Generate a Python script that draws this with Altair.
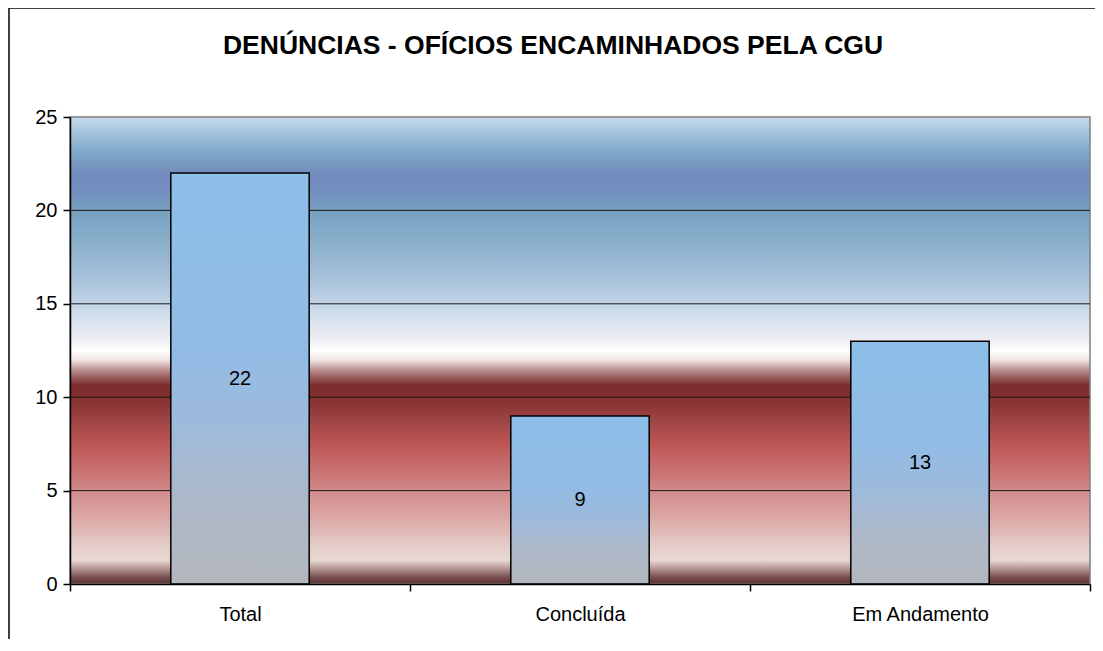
import altair as alt
import pandas as pd

categories = ["Total", "Concluída", "Em Andamento"]
values = [22, 9, 13]
grid_values = [5, 10, 15, 20]
y_ticks = [0, 5, 10, 15, 20, 25]
title_text = "DENÚNCIAS - OFÍCIOS ENCAMINHADOS PELA CGU"

FONT = "Liberation Sans"
W, H = 1020, 467

df = pd.DataFrame({"cat": categories, "val": values})
df_grid = pd.DataFrame({"g": grid_values})
df_title = pd.DataFrame({"t": [title_text]})

bg_stops = [
    (0.0, "#c9dcec"), (0.02, "#b2cde2"), (0.05, "#94b9d4"), (0.08, "#7ea5c6"),
    (0.125, "#7289bd"), (0.156, "#738fbf"), (0.2, "#779fc0"), (0.263, "#88aeca"),
    (0.328, "#a0bcd6"), (0.39, "#bcd0e4"), (0.435, "#d8e2ee"), (0.477, "#eeeef4"),
    (0.5, "#ffffff"), (0.52, "#f0e4e4"), (0.546, "#b08080"), (0.574, "#7c2c2c"),
    (0.6, "#842e2e"), (0.65, "#9e4444"), (0.70, "#bd5656"), (0.756, "#c87070"),
    (0.81, "#d49090"), (0.863, "#dcaaa8"), (0.916, "#e4ccc8"), (0.949, "#e8d8d4"),
    (0.966, "#b89a98"), (0.985, "#7a5050"), (1.0, "#5a3030"),
]
bg_grad = alt.Gradient(
    gradient="linear", x1=0, y1=0, x2=0, y2=1,
    stops=[alt.GradientStop(offset=o, color=c) for o, c in bg_stops],
)
bar_grad = alt.Gradient(
    gradient="linear", x1=0, y1=0, x2=0, y2=1,
    stops=[
        alt.GradientStop(offset=0.0, color="#8dbfe8"),
        alt.GradientStop(offset=0.4, color="#91bce6"),
        alt.GradientStop(offset=0.6, color="#9dbadc"),
        alt.GradientStop(offset=0.8, color="#adb8c8"),
        alt.GradientStop(offset=1.0, color="#b4b8be"),
    ],
)

xscale = alt.Scale(domain=categories, paddingInner=0, paddingOuter=0)
yscale = alt.Scale(domain=[0, 25], nice=False)

background = alt.Chart(df_title).mark_rect(
    fill=bg_grad, stroke="#808080", strokeWidth=1.5
).encode(
    x=alt.value(0), x2=alt.value(W), y=alt.value(0), y2=alt.value(H)
)

frame_left = alt.Chart(df_title).mark_rule(color="#000000", strokeWidth=1.5).encode(
    x=alt.value(-61), y=alt.value(-109), y2=alt.value(H + 55)
)
frame_top = alt.Chart(df_title).mark_rule(color="#000000", strokeWidth=1.5).encode(
    x=alt.value(-61), x2=alt.value(W + 5), y=alt.value(-109)
)

title = alt.Chart(df_title).mark_text(
    font=FONT, fontSize=26.5, fontWeight="bold", color="#000000",
    align="center", baseline="alphabetic"
).encode(
    x=alt.value(W / 2 - 27), y=alt.value(-63), text="t:N"
)

grid = alt.Chart(df_grid).mark_rule(color="#1a1a1a", strokeWidth=1).encode(
    y=alt.Y("g:Q", scale=yscale)
)

bars = alt.Chart(df).mark_bar(
    fill=bar_grad, stroke="#000000", strokeWidth=1.5,
    width=alt.RelativeBandSize(0.407)
).encode(
    x=alt.X("cat:N", scale=xscale, sort=categories,
            axis=alt.Axis(title=None, labelAngle=0, tickBand="extent",
                          labelFont=FONT, labelFontSize=20, labelColor="#000000",
                          labelPadding=13, tickSize=7, tickColor="#000000",
                          tickWidth=1.5,
                          domainColor="#000000", domainWidth=1.5, grid=False,
                          zindex=1)),
    y=alt.Y("val:Q", scale=yscale,
            axis=alt.Axis(title=None, values=y_ticks,
                          labelFont=FONT, labelFontSize=20, labelColor="#000000",
                          labelPadding=6, tickSize=7, tickColor="#000000",
                          tickWidth=1.5,
                          domainColor="#000000", domainWidth=1.5, grid=False,
                          zindex=1)),
)

labels = alt.Chart(df).transform_calculate(mid="datum.val / 2").mark_text(
    font=FONT, fontSize=20, color="#000000", baseline="middle"
).encode(
    x=alt.X("cat:N", scale=xscale, sort=categories),
    y=alt.Y("mid:Q", scale=yscale),
    text=alt.Text("val:Q"),
)

chart = alt.layer(frame_left, frame_top, title, background, grid, bars, labels).properties(
    width=W, height=H,
    autosize=alt.AutoSizeParams(type="none"),
    padding={"left": 62, "top": 109, "right": 5, "bottom": 55},
).configure_view(stroke=None)

chart.save("out.html", embed_options={"renderer": "svg", "actions": False})
